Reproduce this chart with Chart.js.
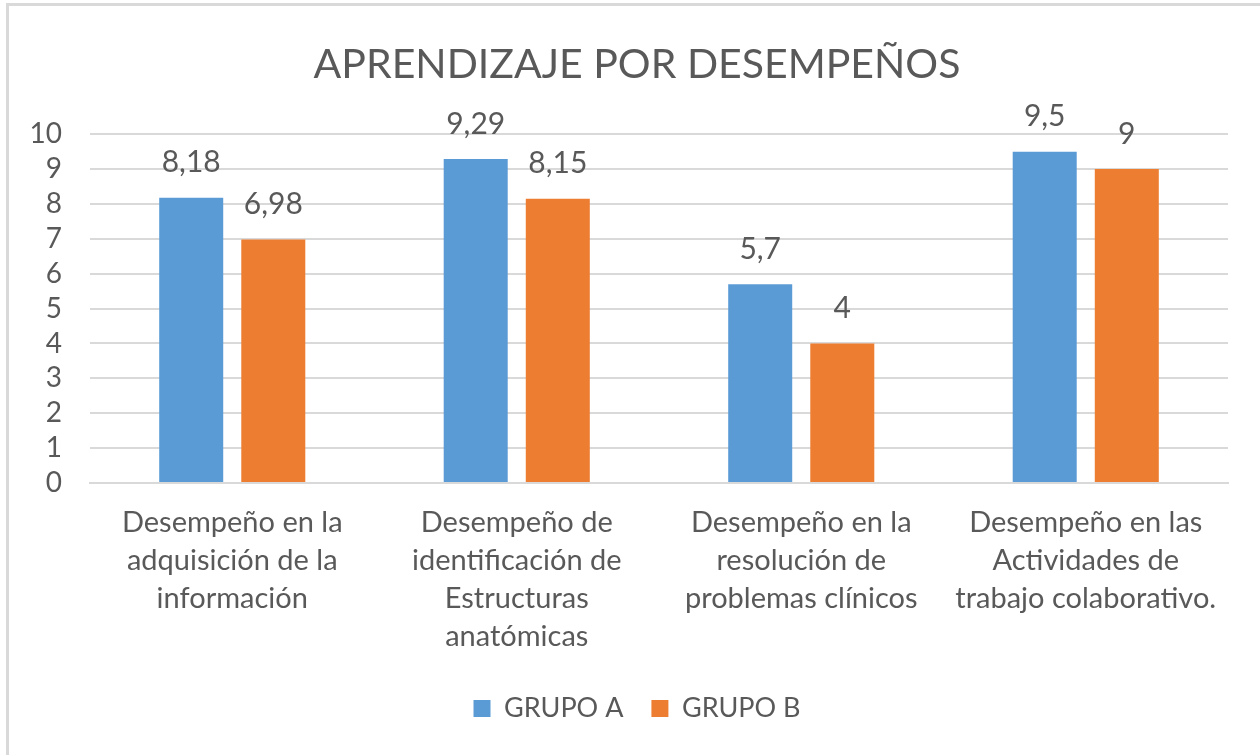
<!DOCTYPE html>
<html>
<head>
<meta charset="utf-8">
<script src="https://cdn.jsdelivr.net/npm/chart.js@4"></script>
<style>
    body { margin: 0; background: #fff; }
    #wrap { position: absolute; left: 0; top: 0; width: 1260px; height: 755px; }
    #frame { position: absolute; left: 6px; top: 3px; width: 1270px; height: 770px; border: 3px solid #d9d9d9; box-sizing: border-box; }
</style>
</head>
<body>
<div id="wrap">
    <div id="frame"></div>
    <canvas id="chart" width="1260" height="755"></canvas>
</div>
<script>
const categories = [
    ["Desempeño en la", "adquisición de la", "información"],
    ["Desempeño de", "identificación de", "Estructuras", "anatómicas"],
    ["Desempeño en la", "resolución de", "problemas clínicos"],
    ["Desempeño en las", "Actividades de", "trabajo colaborativo."]
];
const grupoA = [8.18, 9.29, 5.7, 9.5];
const grupoB = [6.98, 8.15, 4, 9];
const yTicks = [0, 1, 2, 3, 4, 5, 6, 7, 8, 9, 10];

const textColor = "#595959";
const fontFamily = "Lato, 'Liberation Sans', sans-serif";

// Draw the value above each bar, with a decimal comma
const valueLabels = {
    id: "valueLabels",
    afterDatasetsDraw(chart) {
        const ctx = chart.ctx;
        ctx.save();
        ctx.font = "30px " + fontFamily;
        ctx.fillStyle = textColor;
        ctx.textAlign = "center";
        ctx.textBaseline = "middle";
        chart.data.datasets.forEach((ds, i) => {
            chart.getDatasetMeta(i).data.forEach((bar, j) => {
                ctx.fillText(String(ds.data[j]).replace(".", ","), bar.x, bar.y - 35);
            });
        });
        ctx.restore();
    }
};

new Chart(document.getElementById("chart").getContext("2d"), {
    type: "bar",
    data: {
        labels: categories,
        datasets: [
            { label: "GRUPO A", data: grupoA, backgroundColor: "#5B9BD5" },
            { label: "GRUPO B", data: grupoB, backgroundColor: "#ED7D31" }
        ]
    },
    options: {
        responsive: false,
        animation: false,
        categoryPercentage: 0.577,
        barPercentage: 0.78,
        layout: { padding: { left: 23, right: 9, top: 0, bottom: 23 } },
        plugins: {
            title: {
                display: true,
                text: "APRENDIZAJE POR DESEMPEÑOS",
                color: textColor,
                font: { family: fontFamily, size: 41, weight: "normal" },
                padding: { top: 40, bottom: 45 }
            },
            legend: {
                position: "bottom",
                labels: {
                    color: textColor,
                    font: { family: fontFamily, size: 27 },
                    boxWidth: 17,
                    boxHeight: 17,
                    padding: 28
                }
            },
            tooltip: { enabled: false }
        },
        scales: {
            x: {
                grid: { display: false },
                border: { color: "#d9d9d9", width: 2 },
                ticks: {
                    color: textColor,
                    font: { family: fontFamily, size: 29, lineHeight: 1.31 },
                    padding: 13,
                    maxRotation: 0,
                    autoSkip: false
                },
                afterFit(scale) { scale.height = 184; }
            },
            y: {
                min: 0,
                max: 10,
                afterBuildTicks(scale) { scale.ticks = yTicks.map(v => ({ value: v })); },
                grid: { color: "#d9d9d9", lineWidth: 2, drawTicks: false },
                border: { display: false },
                ticks: {
                    color: textColor,
                    font: { family: fontFamily, size: 28 },
                    padding: 28,
                    autoSkip: false
                },
                afterFit(scale) { scale.width = 67; }
            },
            // empty right margin so the title and legend sit where they do in the original
            yRight: {
                position: "right",
                grid: { display: false },
                border: { display: false },
                ticks: { display: false },
                afterFit(scale) { scale.width = 23; }
            }
        }
    },
    plugins: [valueLabels]
});
</script>
</body>
</html>
